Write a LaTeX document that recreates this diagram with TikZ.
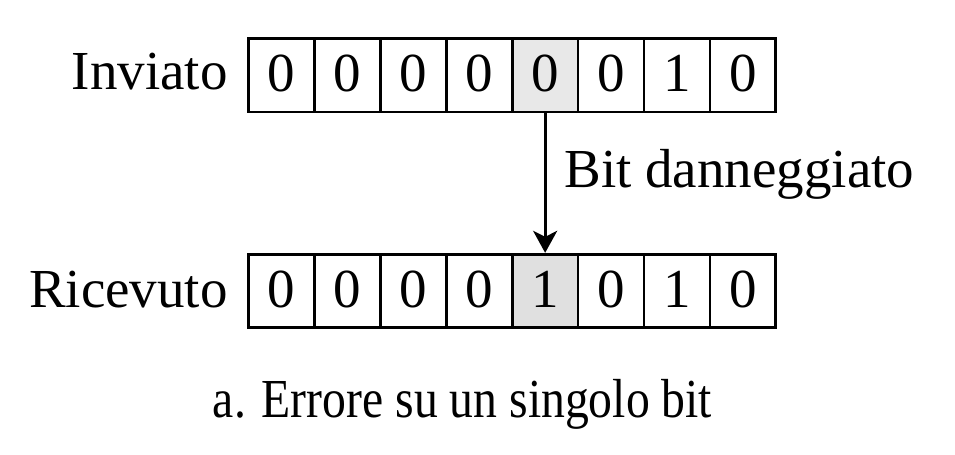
\documentclass[tikz,border=0pt]{standalone}
\usepackage{fontspec}
\setmainfont{Liberation Serif}
\usetikzlibrary{arrows.meta}
\begin{document}
\begin{tikzpicture}[x=0.5pt,y=-0.5pt,
  txt/.style={font=\fontsize{27.5pt}{30pt}\selectfont},
  cell/.style={txt, draw, line width=1.35pt, minimum width=32.95pt,
    minimum height=36.8pt, inner sep=0pt, text height=16pt, text depth=0pt},
  plain/.style={},
  hitt/.style={fill=gray!18},
  hitb/.style={fill=gray!24},
  lbl/.style={txt, inner sep=0pt},
  arr/.style={line width=1.5pt, -{Stealth[length=11pt,width=12pt,inset=3pt]}}]
\useasboundingbox (0,0) rectangle (955,455);
\foreach \b/\s [count=\i] in {0/plain,0/plain,0/plain,0/plain,0/hitt,0/plain,1/plain,0/plain}
  \node[cell,\s] (t\i) at ({248.6+65.9*(\i-0.5)},75.2) {\b};
\foreach \b/\s [count=\i] in {0/plain,0/plain,0/plain,0/plain,1/hitb,0/plain,1/plain,0/plain}
  \node[cell,\s] (b\i) at ({248.6+65.9*(\i-0.5)},291) {\b};
\node[lbl, anchor=base east] (inv) at (228,90) {Inviato};
\node[lbl, anchor=base east] (ric) at (228,307) {Ricevuto};
\node[lbl, anchor=base west] (dmg) at (564,187) {Bit danneggiato};
\node[lbl, anchor=base] (cap) at (462.5,417) {\scalebox{0.867}[1]{a. Errore su un singolo bit}};
\draw[arr] (t5.south) -- (b5.north);
\end{tikzpicture}
\end{document}
